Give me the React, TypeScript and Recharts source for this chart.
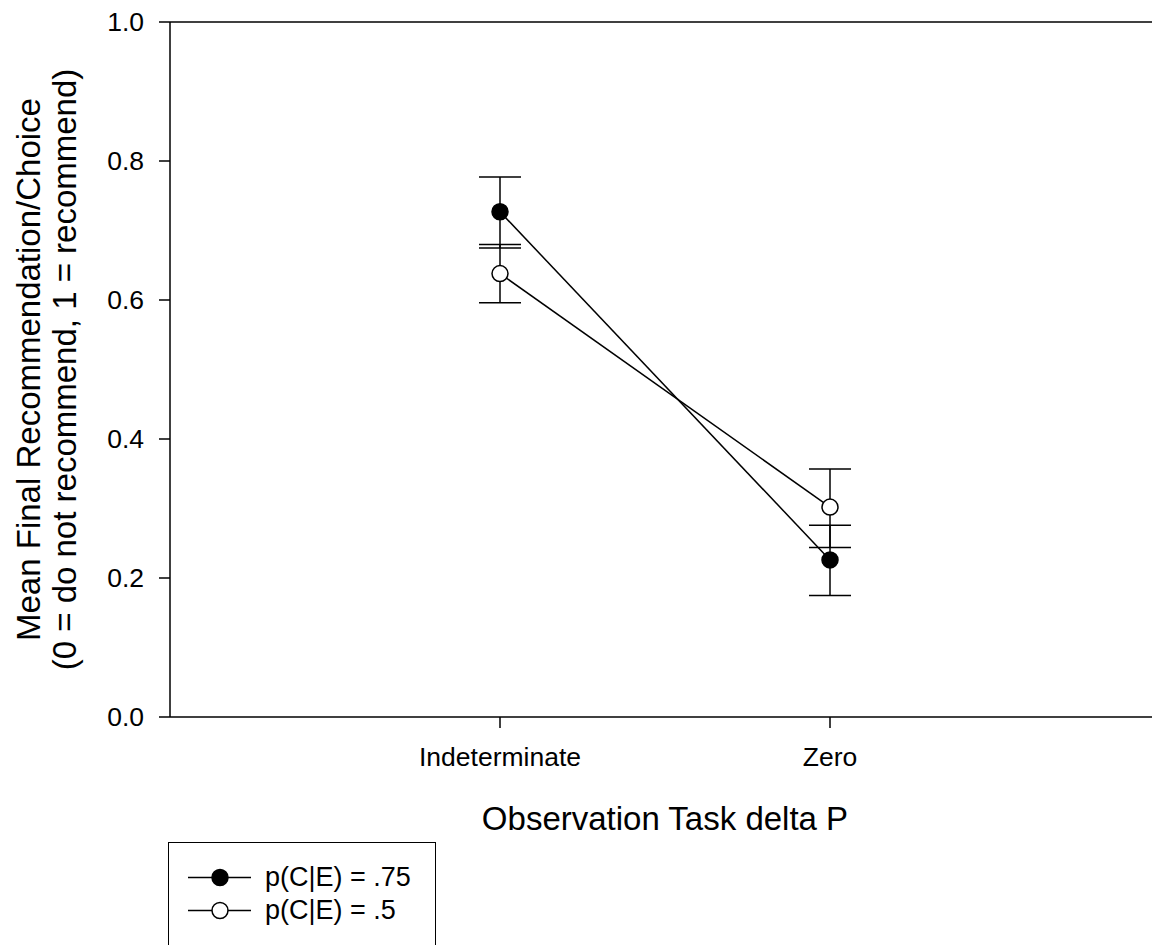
import React from "react"
import {
  LineChart,
  Line,
  XAxis,
  YAxis,
  ErrorBar,
  ReferenceLine,
  Legend,
  Label,
} from "recharts"

const categories = ["Indeterminate", "Zero"]
const p75Mean = [0.727, 0.226]
const p75Lower = [0.675, 0.175]
const p75Upper = [0.777, 0.276]
const p5Mean = [0.638, 0.302]
const p5Lower = [0.596, 0.244]
const p5Upper = [0.68, 0.357]
const yTicks = [0, 0.2, 0.4, 0.6, 0.8, 1.0]

const FONT = "'Liberation Sans', Arial, sans-serif"

const data = categories.map((name, i) => ({
  x: i + 1,
  name,
  p75: p75Mean[i],
  p75Err: [p75Mean[i] - p75Lower[i], p75Upper[i] - p75Mean[i]],
  p5: p5Mean[i],
  p5Err: [p5Mean[i] - p5Lower[i], p5Upper[i] - p5Mean[i]],
}))

const legendItems = [
  { label: "p(C|E) = .75", fill: "#000" },
  { label: "p(C|E) = .5", fill: "#fff" },
]

function LegendBox() {
  return (
    <div
      style={{
        width: 268,
        height: 130,
        border: "1.5px solid #000",
        boxSizing: "border-box",
        background: "#fff",
        paddingTop: 18,
        fontFamily: FONT,
        fontSize: 27,
        color: "#000",
      }}
    >
      {legendItems.map((item) => (
        <div key={item.label} style={{ display: "flex", alignItems: "center", height: 33 }}>
          <svg width={96} height={33} style={{ flex: "none" }}>
            <line x1={19} x2={82} y1={16.5} y2={16.5} stroke="#000" strokeWidth={1.5} />
            <circle cx={51} cy={16.5} r={8} fill={item.fill} stroke="#000" strokeWidth={1.5} />
          </svg>
          <span style={{ lineHeight: "33px" }}>{item.label}</span>
        </div>
      ))}
    </div>
  )
}

function YTitle({ viewBox }: any) {
  const cy = viewBox.y + viewBox.height / 2
  return (
    <g fontFamily={FONT} fontSize={33} fill="#000" textAnchor="middle">
      <text x={40} y={cy} transform={`rotate(-90, 40, ${cy})`}>
        Mean Final Recommendation/Choice
      </text>
      <text x={76} y={cy} transform={`rotate(-90, 76, ${cy})`}>
        (0 = do not recommend, 1 = recommend)
      </text>
    </g>
  )
}

function XTitle({ viewBox }: any) {
  return (
    <text
      x={viewBox.x + viewBox.width / 2}
      y={830}
      fontFamily={FONT}
      fontSize={33}
      fill="#000"
      textAnchor="middle"
    >
      Observation Task delta P
    </text>
  )
}

export default function App() {
  return (
    <div
      style={{
        position: "absolute",
        left: 0,
        top: 0,
        width: 1152,
        height: 945,
        overflow: "hidden",
        background: "#fff",
      }}
    >
      <LineChart
        width={1160}
        height={945}
        data={data}
        margin={{ top: 22, right: 0, bottom: 128, left: 0 }}
      >
        <XAxis
          dataKey="x"
          type="number"
          domain={[0, 3]}
          ticks={[1, 2]}
          tickFormatter={(v: number) => categories[v - 1]}
          height={100}
          axisLine={{ stroke: "#000", strokeWidth: 1.5 }}
          tickLine={{ stroke: "#000", strokeWidth: 1.5 }}
          tickSize={11}
          tickMargin={19}
          tick={{ fill: "#000", fontSize: 26.5, fontFamily: FONT }}
        >
          <Label content={<XTitle />} />
        </XAxis>
        <YAxis
          type="number"
          domain={[0, 1]}
          ticks={yTicks}
          tickFormatter={(v: number) => v.toFixed(1)}
          width={170}
          axisLine={{ stroke: "#000", strokeWidth: 1.5 }}
          tickLine={{ stroke: "#000", strokeWidth: 1.5 }}
          tickSize={11}
          tickMargin={15}
          tick={{ fill: "#000", fontSize: 26.5, fontFamily: FONT }}
        >
          <Label content={<YTitle />} />
        </YAxis>
        <ReferenceLine y={1} stroke="#000" strokeWidth={1.5} ifOverflow="visible" />
        <Legend
          layout="vertical"
          align="center"
          verticalAlign="middle"
          wrapperStyle={{ left: 168, top: 842, width: 268 }}
          content={() => <LegendBox />}
        />
        <Line
          dataKey="p75"
          stroke="#000"
          strokeWidth={1.5}
          isAnimationActive={false}
          dot={{ r: 8, fill: "#000", stroke: "#000", strokeWidth: 1.5 }}
          activeDot={false}
        >
          <ErrorBar dataKey="p75Err" width={21} stroke="#000" strokeWidth={1.5} />
        </Line>
        <Line
          dataKey="p5"
          stroke="#000"
          strokeWidth={1.5}
          isAnimationActive={false}
          dot={{ r: 8, fill: "#fff", stroke: "#000", strokeWidth: 1.5 }}
          activeDot={false}
        >
          <ErrorBar dataKey="p5Err" width={21} stroke="#000" strokeWidth={1.5} />
        </Line>
      </LineChart>
    </div>
  )
}
